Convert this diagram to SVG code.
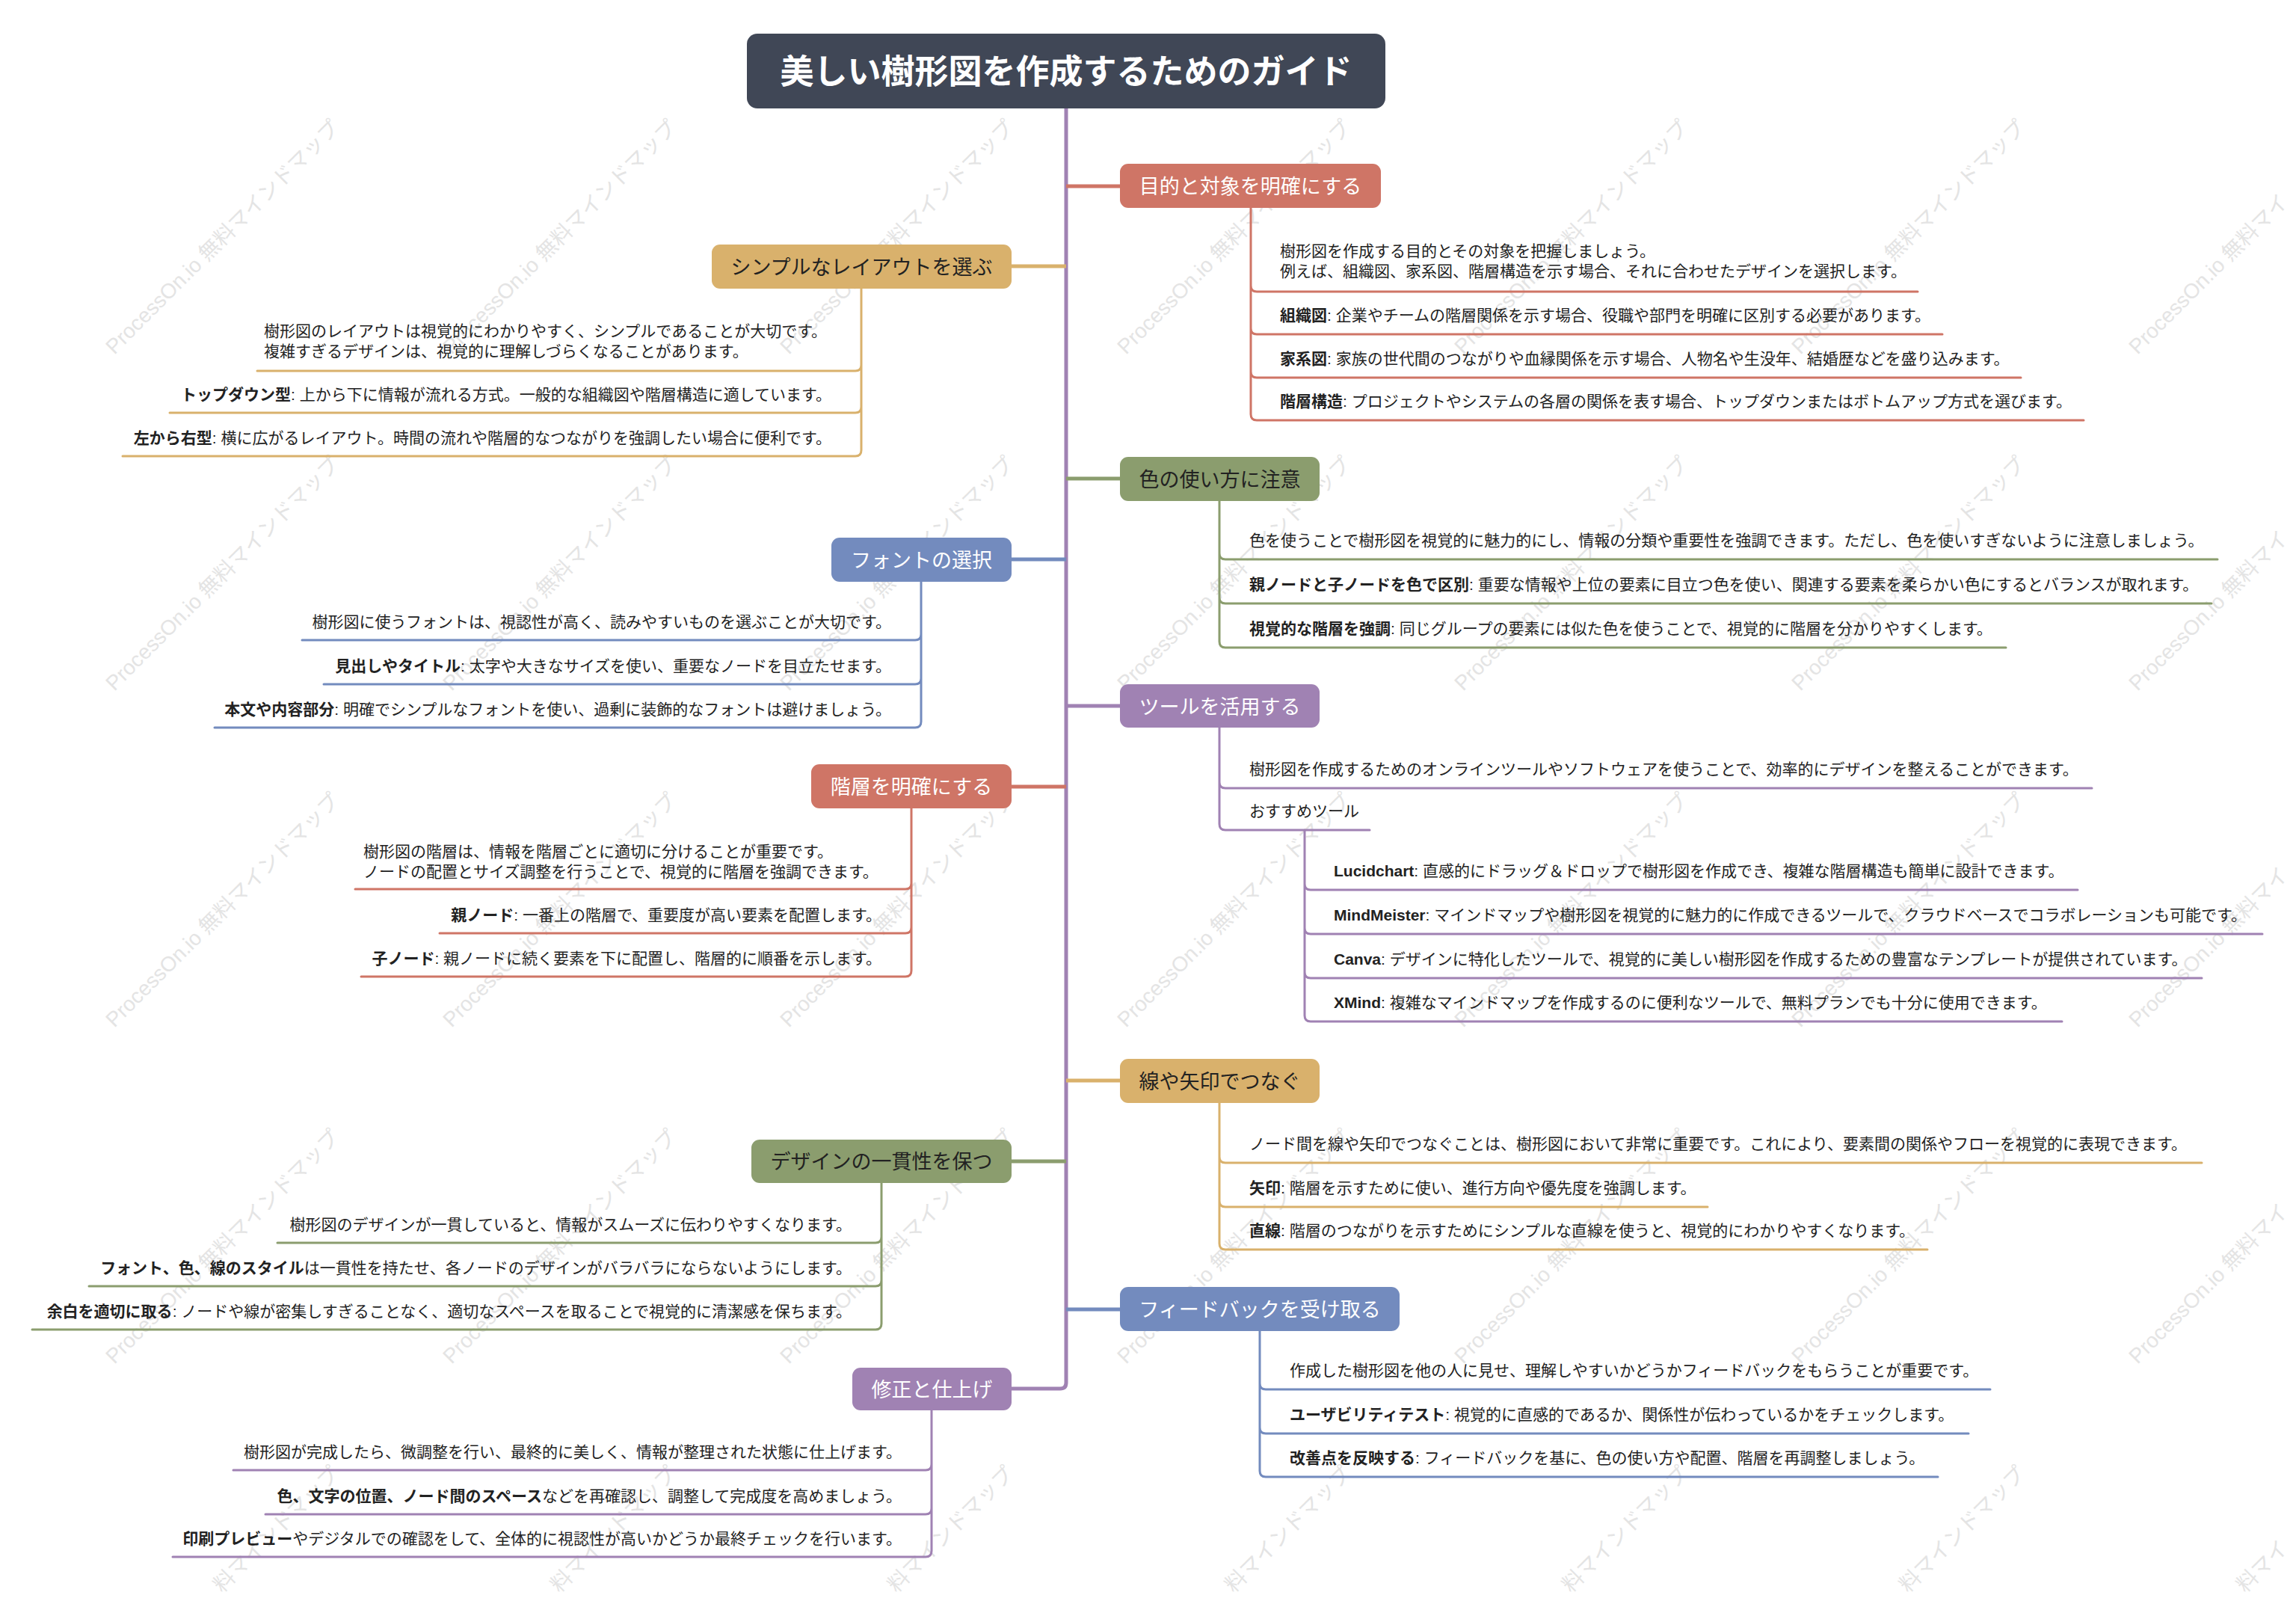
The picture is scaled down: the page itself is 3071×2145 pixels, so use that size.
<svg xmlns="http://www.w3.org/2000/svg" width="3071" height="2145" viewBox="0 0 3071 2145">
<style>
text{font-family:"Liberation Sans","Noto Sans CJK JP",sans-serif;}
.t{font-size:21px;fill:#222;}
.e{text-anchor:end;}
.b{font-weight:bold;}
.nt{font-size:27px;text-anchor:middle;}
.w{fill:#fff;}
.k{fill:#222;}
.wm{font-size:28px;fill:#e4e4e4;}
.ln{fill:none;stroke-width:3;stroke-linecap:round;}
.cn{fill:none;stroke-width:5;}
.red{stroke:#cf7566;} .yel{stroke:#d9b16c;} .grn{stroke:#8b9d6e;} .blu{stroke:#738bbe;} .pur{stroke:#a082b3;}
</style>
<rect width="3071" height="2145" fill="#fff"/>

<g id="watermark">
<text class="wm" transform="translate(153,475) rotate(-45)">ProcessOn.io 無料マインドマップ</text>
<text class="wm" transform="translate(604,475) rotate(-45)">ProcessOn.io 無料マインドマップ</text>
<text class="wm" transform="translate(1055,475) rotate(-45)">ProcessOn.io 無料マインドマップ</text>
<text class="wm" transform="translate(1506,475) rotate(-45)">ProcessOn.io 無料マインドマップ</text>
<text class="wm" transform="translate(1957,475) rotate(-45)">ProcessOn.io 無料マインドマップ</text>
<text class="wm" transform="translate(2408,475) rotate(-45)">ProcessOn.io 無料マインドマップ</text>
<text class="wm" transform="translate(2859,475) rotate(-45)">ProcessOn.io 無料マイ</text>
<text class="wm" transform="translate(153,925) rotate(-45)">ProcessOn.io 無料マインドマップ</text>
<text class="wm" transform="translate(604,925) rotate(-45)">ProcessOn.io 無料マインドマップ</text>
<text class="wm" transform="translate(1055,925) rotate(-45)">ProcessOn.io 無料マインドマップ</text>
<text class="wm" transform="translate(1506,925) rotate(-45)">ProcessOn.io 無料マインドマップ</text>
<text class="wm" transform="translate(1957,925) rotate(-45)">ProcessOn.io 無料マインドマップ</text>
<text class="wm" transform="translate(2408,925) rotate(-45)">ProcessOn.io 無料マインドマップ</text>
<text class="wm" transform="translate(2859,925) rotate(-45)">ProcessOn.io 無料マイ</text>
<text class="wm" transform="translate(153,1375) rotate(-45)">ProcessOn.io 無料マインドマップ</text>
<text class="wm" transform="translate(604,1375) rotate(-45)">ProcessOn.io 無料マインドマップ</text>
<text class="wm" transform="translate(1055,1375) rotate(-45)">ProcessOn.io 無料マインドマップ</text>
<text class="wm" transform="translate(1506,1375) rotate(-45)">ProcessOn.io 無料マインドマップ</text>
<text class="wm" transform="translate(1957,1375) rotate(-45)">ProcessOn.io 無料マインドマップ</text>
<text class="wm" transform="translate(2408,1375) rotate(-45)">ProcessOn.io 無料マインドマップ</text>
<text class="wm" transform="translate(2859,1375) rotate(-45)">ProcessOn.io 無料マイ</text>
<text class="wm" transform="translate(153,1825) rotate(-45)">ProcessOn.io 無料マインドマップ</text>
<text class="wm" transform="translate(604,1825) rotate(-45)">ProcessOn.io 無料マインドマップ</text>
<text class="wm" transform="translate(1055,1825) rotate(-45)">ProcessOn.io 無料マインドマップ</text>
<text class="wm" transform="translate(1506,1825) rotate(-45)">ProcessOn.io 無料マインドマップ</text>
<text class="wm" transform="translate(1957,1825) rotate(-45)">ProcessOn.io 無料マインドマップ</text>
<text class="wm" transform="translate(2408,1825) rotate(-45)">ProcessOn.io 無料マインドマップ</text>
<text class="wm" transform="translate(2859,1825) rotate(-45)">ProcessOn.io 無料マイ</text>
<text class="wm" transform="translate(297,2131) rotate(-45)">料マインドマップ</text>
<text class="wm" transform="translate(748,2131) rotate(-45)">料マインドマップ</text>
<text class="wm" transform="translate(1199,2131) rotate(-45)">料マインドマップ</text>
<text class="wm" transform="translate(1650,2131) rotate(-45)">料マインドマップ</text>
<text class="wm" transform="translate(2101,2131) rotate(-45)">料マインドマップ</text>
<text class="wm" transform="translate(2552,2131) rotate(-45)">料マインドマップ</text>
<text class="wm" transform="translate(3003,2131) rotate(-45)">料マイ</text>
</g>

<g id="connectors">
<path class="cn pur" d="M1426,145 V1849 Q1426,1857 1418,1857 H1353"/>
<path class="cn red" d="M1426,249 H1498"/>
<path class="cn grn" d="M1426,640 H1498"/>
<path class="cn pur" d="M1426,944 H1498"/>
<path class="cn yel" d="M1426,1445 H1498"/>
<path class="cn blu" d="M1426,1751 H1498"/>
<path class="cn yel" d="M1426,356 H1353"/>
<path class="cn blu" d="M1426,748 H1353"/>
<path class="cn red" d="M1426,1052 H1353"/>
<path class="cn grn" d="M1426,1553 H1353"/>

<path class="ln red" d="M1673,278 V554 M1673,382 Q1673,390 1681,390 H2565 M1673,439 Q1673,447 1681,447 H2598 M1673,497 Q1673,505 1681,505 H2703 M1673,554 Q1673,562 1681,562 H2787"/>
<path class="ln grn" d="M1631,670 V858 M1631,740 Q1631,748 1639,748 H2966 M1631,799 Q1631,807 1639,807 H2958 M1631,858 Q1631,866 1639,866 H2683"/>
<path class="ln pur" d="M1631,973 V1102 M1631,1046 Q1631,1054 1639,1054 H2798 M1631,1102 Q1631,1110 1639,1110 H1832"/>
<path class="ln pur" d="M1745,1110 V1358 M1745,1182 Q1745,1190 1753,1190 H2779 M1745,1241 Q1745,1249 1753,1249 H3026 M1745,1300 Q1745,1308 1753,1308 H2945 M1745,1358 Q1745,1366 1753,1366 H2758"/>
<path class="ln yel" d="M1631,1475 V1663 M1631,1547 Q1631,1555 1639,1555 H2945 M1631,1606 Q1631,1614 1639,1614 H2284 M1631,1663 Q1631,1671 1639,1671 H2578"/>
<path class="ln blu" d="M1685,1780 V1967 M1685,1850 Q1685,1858 1693,1858 H2662 M1685,1909 Q1685,1917 1693,1917 H2633 M1685,1967 Q1685,1975 1693,1975 H2592"/>
<path class="ln yel" d="M1152,386 V602 M1152,488 Q1152,496 1144,496 H344 M1152,544 Q1152,552 1144,552 H227 M1152,602 Q1152,610 1144,610 H164"/>
<path class="ln blu" d="M1232,778 V965 M1232,848 Q1232,856 1224,856 H404 M1232,907 Q1232,915 1224,915 H433 M1232,965 Q1232,973 1224,973 H287"/>
<path class="ln red" d="M1219,1081 V1298 M1219,1181 Q1219,1189 1211,1189 H475 M1219,1240 Q1219,1248 1211,1248 H588 M1219,1298 Q1219,1306 1211,1306 H483"/>
<path class="ln grn" d="M1179,1582 V1770 M1179,1654 Q1179,1662 1171,1662 H371 M1179,1712 Q1179,1720 1171,1720 H119 M1179,1770 Q1179,1778 1171,1778 H43"/>
<path class="ln pur" d="M1246,1886 V2074 M1246,1958 Q1246,1966 1238,1966 H312 M1246,2017 Q1246,2025 1238,2025 H355 M1246,2074 Q1246,2082 1238,2082 H231"/>
</g>

<g id="root">
<rect x="999" y="45" width="854" height="100" rx="14" fill="#404756"/>
<text x="1426" y="112" font-size="45" font-weight="bold" text-anchor="middle" class="w">美しい樹形図を作成するためのガイド</text>
</g>

<g id="n1">
<rect x="1498" y="219" width="349" height="59" rx="11" fill="#cf7566"/>
<text x="1672.5" y="259" class="nt w">目的と対象を明確にする</text>
<text class="t" x="1712" y="343">樹形図を作成する目的とその対象を把握しましょう。</text>
<text class="t" x="1712" y="370">例えば、組織図、家系図、階層構造を示す場合、それに合わせたデザインを選択します。</text>
<text class="t" x="1712" y="429"><tspan class="b">組織図</tspan>: 企業やチームの階層関係を示す場合、役職や部門を明確に区別する必要があります。</text>
<text class="t" x="1712" y="487"><tspan class="b">家系図</tspan>: 家族の世代間のつながりや血縁関係を示す場合、人物名や生没年、結婚歴などを盛り込みます。</text>
<text class="t" x="1712" y="544"><tspan class="b">階層構造</tspan>: プロジェクトやシステムの各層の関係を表す場合、トップダウンまたはボトムアップ方式を選びます。</text>
</g>

<g id="n2">
<rect x="1498" y="611" width="267" height="59" rx="11" fill="#8b9d6e"/>
<text x="1631.5" y="651" class="nt k">色の使い方に注意</text>
<text class="t" x="1671" y="730">色を使うことで樹形図を視覚的に魅力的にし、情報の分類や重要性を強調できます。ただし、色を使いすぎないように注意しましょう。</text>
<text class="t" x="1671" y="789"><tspan class="b">親ノードと子ノードを色で区別</tspan>: 重要な情報や上位の要素に目立つ色を使い、関連する要素を柔らかい色にするとバランスが取れます。</text>
<text class="t" x="1671" y="848"><tspan class="b">視覚的な階層を強調</tspan>: 同じグループの要素には似た色を使うことで、視覚的に階層を分かりやすくします。</text>
</g>

<g id="n3">
<rect x="1498" y="915" width="267" height="58" rx="11" fill="#a082b3"/>
<text x="1631.5" y="955" class="nt w">ツールを活用する</text>
<text class="t" x="1671" y="1036">樹形図を作成するためのオンラインツールやソフトウェアを使うことで、効率的にデザインを整えることができます。</text>
<text class="t" x="1671" y="1092">おすすめツール</text>
<text class="t" x="1784" y="1172"><tspan class="b">Lucidchart</tspan>: 直感的にドラッグ＆ドロップで樹形図を作成でき、複雑な階層構造も簡単に設計できます。</text>
<text class="t" x="1784" y="1231"><tspan class="b">MindMeister</tspan>: マインドマップや樹形図を視覚的に魅力的に作成できるツールで、クラウドベースでコラボレーションも可能です。</text>
<text class="t" x="1784" y="1290"><tspan class="b">Canva</tspan>: デザインに特化したツールで、視覚的に美しい樹形図を作成するための豊富なテンプレートが提供されています。</text>
<text class="t" x="1784" y="1348"><tspan class="b">XMind</tspan>: 複雑なマインドマップを作成するのに便利なツールで、無料プランでも十分に使用できます。</text>
</g>

<g id="n4">
<rect x="1498" y="1416" width="267" height="59" rx="11" fill="#d9b16c"/>
<text x="1631.5" y="1456" class="nt k">線や矢印でつなぐ</text>
<text class="t" x="1671" y="1537">ノード間を線や矢印でつなぐことは、樹形図において非常に重要です。これにより、要素間の関係やフローを視覚的に表現できます。</text>
<text class="t" x="1671" y="1596"><tspan class="b">矢印</tspan>: 階層を示すために使い、進行方向や優先度を強調します。</text>
<text class="t" x="1671" y="1653"><tspan class="b">直線</tspan>: 階層のつながりを示すためにシンプルな直線を使うと、視覚的にわかりやすくなります。</text>
</g>

<g id="n5">
<rect x="1498" y="1721" width="374" height="59" rx="11" fill="#738bbe"/>
<text x="1685" y="1761" class="nt w">フィードバックを受け取る</text>
<text class="t" x="1725" y="1840">作成した樹形図を他の人に見せ、理解しやすいかどうかフィードバックをもらうことが重要です。</text>
<text class="t" x="1725" y="1899"><tspan class="b">ユーザビリティテスト</tspan>: 視覚的に直感的であるか、関係性が伝わっているかをチェックします。</text>
<text class="t" x="1725" y="1957"><tspan class="b">改善点を反映する</tspan>: フィードバックを基に、色の使い方や配置、階層を再調整しましょう。</text>
</g>

<g id="n6">
<rect x="952" y="327" width="401" height="59" rx="11" fill="#d9b16c"/>
<text x="1152.5" y="367" class="nt k">シンプルなレイアウトを選ぶ</text>
<text class="t" x="353" y="450">樹形図のレイアウトは視覚的にわかりやすく、シンプルであることが大切です。</text>
<text class="t" x="353" y="477">複雑すぎるデザインは、視覚的に理解しづらくなることがあります。</text>
<text class="t e" x="1112" y="535"><tspan class="b">トップダウン型</tspan>: 上から下に情報が流れる方式。一般的な組織図や階層構造に適しています。</text>
<text class="t e" x="1112" y="593"><tspan class="b">左から右型</tspan>: 横に広がるレイアウト。時間の流れや階層的なつながりを強調したい場合に便利です。</text>
</g>

<g id="n7">
<rect x="1112" y="719" width="241" height="59" rx="11" fill="#738bbe"/>
<text x="1232.5" y="759" class="nt w">フォントの選択</text>
<text class="t e" x="1192" y="839">樹形図に使うフォントは、視認性が高く、読みやすいものを選ぶことが大切です。</text>
<text class="t e" x="1192" y="898"><tspan class="b">見出しやタイトル</tspan>: 太字や大きなサイズを使い、重要なノードを目立たせます。</text>
<text class="t e" x="1192" y="956"><tspan class="b">本文や内容部分</tspan>: 明確でシンプルなフォントを使い、過剰に装飾的なフォントは避けましょう。</text>
</g>

<g id="n8">
<rect x="1085" y="1022" width="268" height="59" rx="11" fill="#cf7566"/>
<text x="1219" y="1062" class="nt w">階層を明確にする</text>
<text class="t" x="486" y="1146">樹形図の階層は、情報を階層ごとに適切に分けることが重要です。</text>
<text class="t" x="486" y="1173">ノードの配置とサイズ調整を行うことで、視覚的に階層を強調できます。</text>
<text class="t e" x="1179" y="1231"><tspan class="b">親ノード</tspan>: 一番上の階層で、重要度が高い要素を配置します。</text>
<text class="t e" x="1179" y="1289"><tspan class="b">子ノード</tspan>: 親ノードに続く要素を下に配置し、階層的に順番を示します。</text>
</g>

<g id="n9">
<rect x="1005" y="1524" width="348" height="58" rx="11" fill="#8b9d6e"/>
<text x="1179" y="1563" class="nt k">デザインの一貫性を保つ</text>
<text class="t e" x="1139" y="1645">樹形図のデザインが一貫していると、情報がスムーズに伝わりやすくなります。</text>
<text class="t e" x="1139" y="1703"><tspan class="b">フォント、色、線のスタイル</tspan>は一貫性を持たせ、各ノードのデザインがバラバラにならないようにします。</text>
<text class="t e" x="1139" y="1761"><tspan class="b">余白を適切に取る</tspan>: ノードや線が密集しすぎることなく、適切なスペースを取ることで視覚的に清潔感を保ちます。</text>
</g>

<g id="n10">
<rect x="1140" y="1829" width="213" height="57" rx="11" fill="#a082b3"/>
<text x="1246.5" y="1868" class="nt w">修正と仕上げ</text>
<text class="t e" x="1206" y="1949">樹形図が完成したら、微調整を行い、最終的に美しく、情報が整理された状態に仕上げます。</text>
<text class="t e" x="1206" y="2008"><tspan class="b">色、文字の位置、ノード間のスペース</tspan>などを再確認し、調整して完成度を高めましょう。</text>
<text class="t e" x="1206" y="2065"><tspan class="b">印刷プレビュー</tspan>やデジタルでの確認をして、全体的に視認性が高いかどうか最終チェックを行います。</text>
</g>
</svg>
